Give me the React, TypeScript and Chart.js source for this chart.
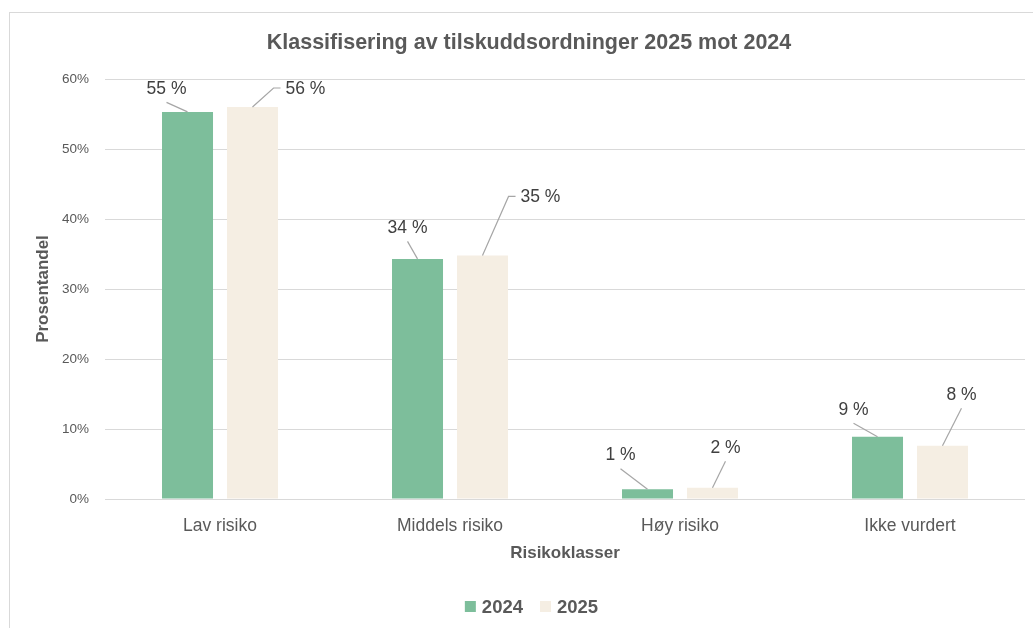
import { useEffect, useRef } from "react";
import { Chart, registerables } from "chart.js";

Chart.register(...registerables);

const chartTitle = "Klassifisering av tilskuddsordninger 2025 mot 2024";
const xAxisTitle = "Risikoklasser";
const yAxisTitle = "Prosentandel";
const categories = ["Lav risiko", "Middels risiko", "Høy risiko", "Ikke vurdert"];
const seriesNames = ["2024", "2025"];
const values2024 = [55.3, 34.3, 1.4, 8.9];
const values2025 = [56.0, 34.8, 1.6, 7.6];
const yTickMax = 60;
const yTickStep = 10;

// label placement (offset of the label centre from the bar top, px)
const labelOffsets2024 = [[-21, -23], [-10, -31], [-27, -34], [-24, -27]];
const labelOffsets2025 = [[53, -18], [58, -58], [13, -40], [19, -51]];
const elbowLeader2025 = [true, true, false, false];

const GREEN = "#7DBE9B";
const BEIGE = "#F5EEE3";
const FONT = "'Liberation Sans', Arial, sans-serif";

const overlayPlugin = {
  id: "overlay",
  afterDatasetsDraw(chart: any) {
    const ctx = chart.ctx;
    ctx.save();
    const offsetsList = [labelOffsets2024, labelOffsets2025];
    const elbows = [[false, false, false, false], elbowLeader2025];
    ctx.font = `17.5px ${FONT}`;
    ctx.textAlign = "center";
    ctx.textBaseline = "middle";
    chart.data.datasets.forEach((ds: any, di: number) => {
      const meta = chart.getDatasetMeta(di);
      meta.data.forEach((bar: any, i: number) => {
        const v = ds.data[i];
        const text = `${Math.round(v)} %`;
        const [dx, dy] = offsetsList[di][i];
        const cx = bar.x + dx;
        const cy = bar.y + dy;
        const w = ctx.measureText(text).width;
        ctx.strokeStyle = "#A6A6A6";
        ctx.lineWidth = 1.2;
        ctx.beginPath();
        if (elbows[di][i]) {
          const left = cx - w / 2;
          ctx.moveTo(bar.x, bar.y);
          ctx.lineTo(left - 12, cy - 1);
          ctx.lineTo(left - 5, cy - 1);
        } else {
          ctx.moveTo(cx, cy + 13.5);
          ctx.lineTo(bar.x, bar.y);
        }
        ctx.stroke();
        ctx.fillStyle = "#404040";
        ctx.fillText(text, cx, cy);
      });
    });
    ctx.restore();
  },
  afterDraw(chart: any) {
    const ctx = chart.ctx;
    const area = chart.chartArea;
    ctx.save();
    ctx.fillStyle = "#595959";
    ctx.textAlign = "center";
    ctx.textBaseline = "middle";
    ctx.font = `bold 21.5px ${FONT}`;
    ctx.fillText(chartTitle, 521, 35);
    ctx.font = `bold 17px ${FONT}`;
    ctx.fillText(xAxisTitle, (area.left + area.right) / 2, 545);
    ctx.save();
    ctx.translate(35, (area.top + area.bottom) / 2);
    ctx.rotate(-Math.PI / 2);
    ctx.fillText(yAxisTitle, 0, 0);
    ctx.restore();
    ctx.font = `bold 18.5px ${FONT}`;
    const colors = [GREEN, BEIGE];
    const box = 11;
    const gapText = 6;
    const gapItem = 17;
    const widths = seriesNames.map((s) => ctx.measureText(s).width);
    let total = 0;
    widths.forEach((w, i) => {
      total += box + gapText + w + (i < widths.length - 1 ? gapItem : 0);
    });
    let x = 523.5 - total / 2;
    const ly = 598.5;
    ctx.textAlign = "left";
    seriesNames.forEach((s, i) => {
      ctx.fillStyle = colors[i];
      ctx.fillRect(x, ly - box / 2, box, box);
      x += box + gapText;
      ctx.fillStyle = "#595959";
      ctx.fillText(s, x, ly + 1);
      x += widths[i] + gapItem;
    });
    ctx.restore();
  },
};

export default function App() {
  const canvasRef = useRef<HTMLCanvasElement | null>(null);

  useEffect(() => {
    if (!canvasRef.current) return;
    const chart = new Chart(canvasRef.current, {
      type: "bar",
      data: {
        labels: categories,
        datasets: [
          {
            label: seriesNames[0],
            data: values2024,
            backgroundColor: GREEN,
            categoryPercentage: 0.565,
            barPercentage: 0.785,
          },
          {
            label: seriesNames[1],
            data: values2025,
            backgroundColor: BEIGE,
            categoryPercentage: 0.565,
            barPercentage: 0.785,
          },
        ],
      },
      options: {
        animation: false,
        responsive: false,
        maintainAspectRatio: false,
        layout: { padding: { top: 71, left: 0, right: 0, bottom: 0 } },
        plugins: {
          legend: { display: false },
          title: { display: false },
          tooltip: { enabled: false },
        },
        scales: {
          x: {
            grid: { display: false },
            border: { display: false },
            ticks: {
              color: "#595959",
              font: { family: FONT, size: 17.5 },
              padding: 9,
            },
            afterFit(scale: any) {
              scale.height = 121;
            },
          },
          y: {
            min: 0,
            max: yTickMax,
            grid: { color: "#D9D9D9", drawTicks: false, lineWidth: 1 },
            border: { display: false },
            ticks: {
              stepSize: yTickStep,
              color: "#595959",
              font: { family: FONT, size: 13.5 },
              padding: 16,
              callback: (v: any) => `${v}%`,
            },
            afterFit(scale: any) {
              scale.width = 97;
            },
          },
        },
      },
      plugins: [overlayPlugin],
    });
    return () => chart.destroy();
  }, []);

  return (
    <div style={{ position: "relative", width: 1017, height: 612 }}>
      <div
        style={{
          position: "fixed",
          left: 9,
          top: 12,
          width: 1100,
          height: 700,
          border: "1px solid #D9D9D9",
          boxSizing: "border-box",
          pointerEvents: "none",
        }}
      />
      <canvas
        ref={canvasRef}
        width={1017}
        height={612}
        style={{ position: "absolute", left: 0, top: 0, width: 1017, height: 612 }}
      />
    </div>
  );
}
